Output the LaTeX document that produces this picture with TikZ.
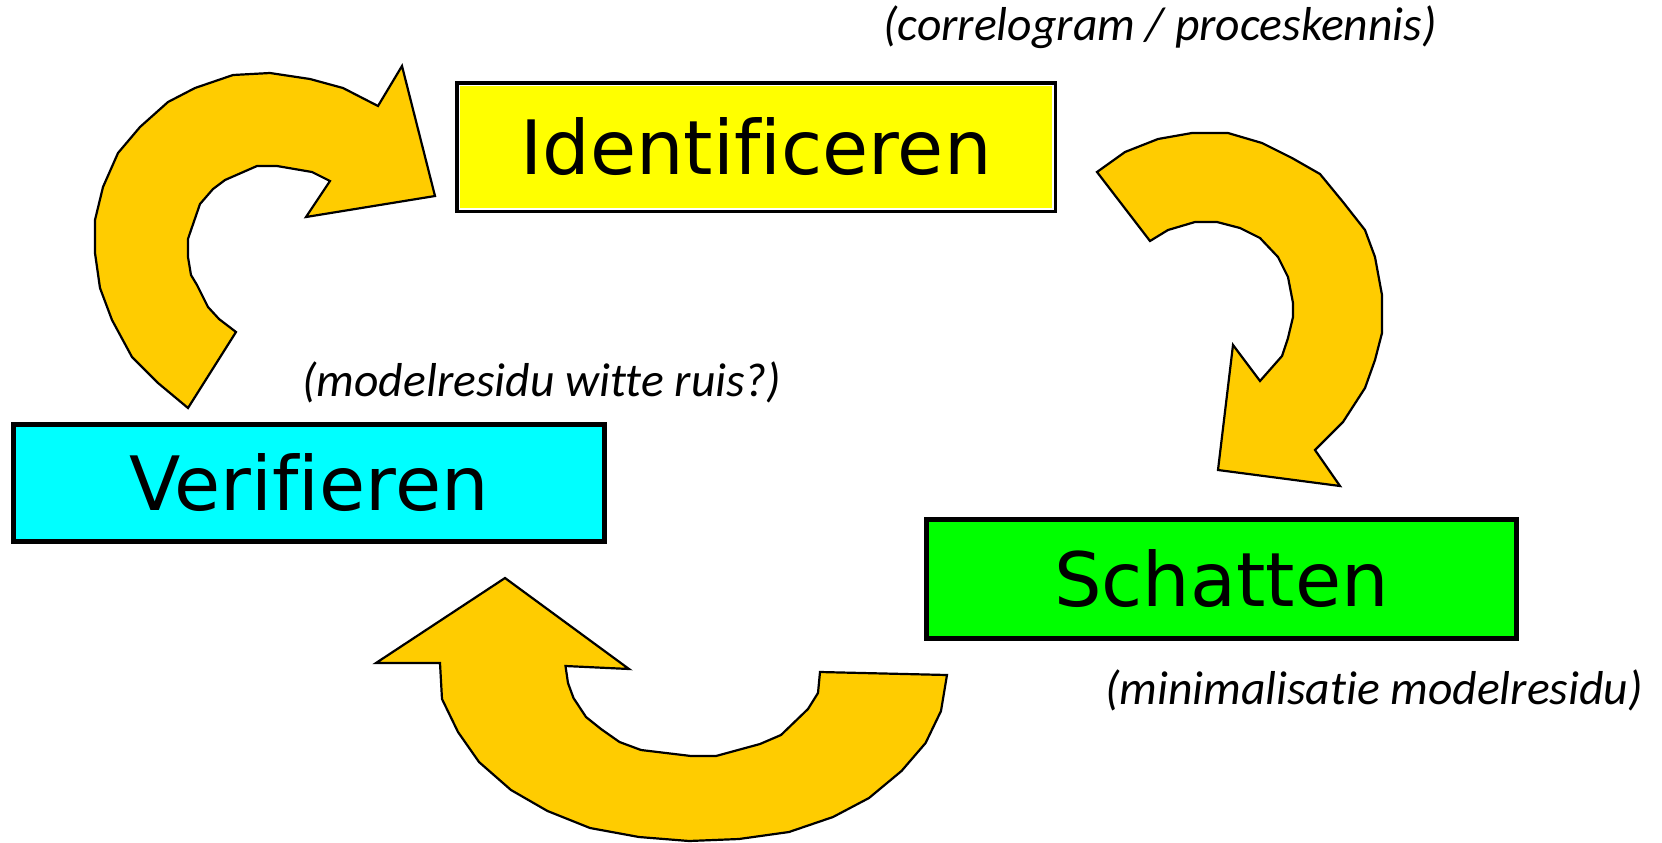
\documentclass[tikz,border=0pt]{standalone}
\usepackage{fontspec}
\newfontfamily\boxfont[Ligatures=NoCommon]{DejaVu Sans}
\newfontfamily\notefont[Ligatures=NoCommon]{Carlito}
\definecolor{idyellow}{HTML}{FFFF00}
\definecolor{vercyan}{HTML}{00FFFF}
\definecolor{schgreen}{HTML}{00FF00}
\definecolor{arrowfill}{HTML}{FFCC00}
\tikzset{
  stepbox/.style={draw=black, line width=2.5pt, inner sep=0pt,
    font=\boxfont\fontsize{37.5}{40}\selectfont},
  cyclearrow/.style={draw=black, fill=arrowfill, line width=1.1pt, line join=miter},
  note/.style={inner sep=0pt, anchor=base,
    font=\notefont\itshape\fontsize{23.8}{26}\selectfont}
}
\begin{document}
\begin{tikzpicture}[x=0.5pt, y=-0.5pt]
\useasboundingbox (0,0) rectangle (1662,842);

% curved arrow: Verifieren -> Identificeren
\draw[cyclearrow] (402,66) -- (435,196) -- (306,217) -- (330,181) -- (312,172)
  -- (277,166) -- (257,166) -- (225,180) -- (213,189) -- (200,204) -- (190,233)
  -- (188,239) -- (188,257) -- (191,275) -- (197,285) -- (208,307) -- (219,319)
  -- (236,332) -- (188,408) -- (158,383) -- (132,357) -- (112,320) -- (100,288)
  -- (95,253) -- (95,220) -- (103,187) -- (118,153) -- (140,127) -- (168,102)
  -- (195,88) -- (233,75) -- (270,73) -- (310,79) -- (343,88) -- (378,106) -- cycle;

% curved arrow: Identificeren -> Schatten
\draw[cyclearrow] (1097,172) -- (1125,152) -- (1158,139) -- (1192,133) -- (1228,133)
  -- (1262,143) -- (1292,158) -- (1320,174) -- (1343,202) -- (1365,230) -- (1375,257)
  -- (1382,295) -- (1382,333) -- (1375,360) -- (1365,388) -- (1343,422) -- (1315,450)
  -- (1340,486) -- (1218,470) -- (1233,345) -- (1260,381) -- (1282,356) -- (1288,338)
  -- (1293,317) -- (1293,303) -- (1288,277) -- (1278,257) -- (1260,238) -- (1240,228)
  -- (1217,222) -- (1195,222) -- (1168,230) -- (1150,241) -- cycle;

% curved arrow: Schatten -> Verifieren
\draw[cyclearrow] (505,578) -- (629,669) -- (565.5,666) -- (568,683) -- (573.5,698)
  -- (586,717) -- (601,729) -- (619.5,742) -- (641,750) -- (691,756) -- (716,756)
  -- (760,744) -- (781,735) -- (808,709) -- (818,693) -- (820,672) -- (947,675)
  -- (941,711) -- (925.6,743) -- (901.5,771) -- (869,798) -- (833,817) -- (789,832)
  -- (739,839) -- (689,841) -- (639,837) -- (590,828) -- (547.5,811) -- (511,790)
  -- (479,762) -- (458,732) -- (442,699) -- (440,663) -- (376,663) -- cycle;

% process steps
\node[stepbox, fill=idyellow, minimum width=298.5pt, minimum height=63.5pt]
  (ident) at (756,147) {Identificeren};
\draw[white, line width=0.9pt]
  ([shift={(2.2pt,-2.2pt)}]ident.north west) rectangle ([shift={(-2.2pt,2.2pt)}]ident.south east);
\node[stepbox, fill=vercyan, minimum width=295.5pt, minimum height=58.5pt]
  (verif) at (309,483) {Verifieren};
\node[stepbox, fill=schgreen, minimum width=295pt, minimum height=59.5pt]
  (schat) at (1221.5,579) {Schatten};

% annotations
\node[note] (corr) at (1160,40) {(correlogram / proceskennis)};
\node[note] (wit) at (542,396) {(modelresidu witte ruis?)};
\node[note] (mini) at (1374,704) {(minimalisatie modelresidu)};
\end{tikzpicture}
\end{document}
